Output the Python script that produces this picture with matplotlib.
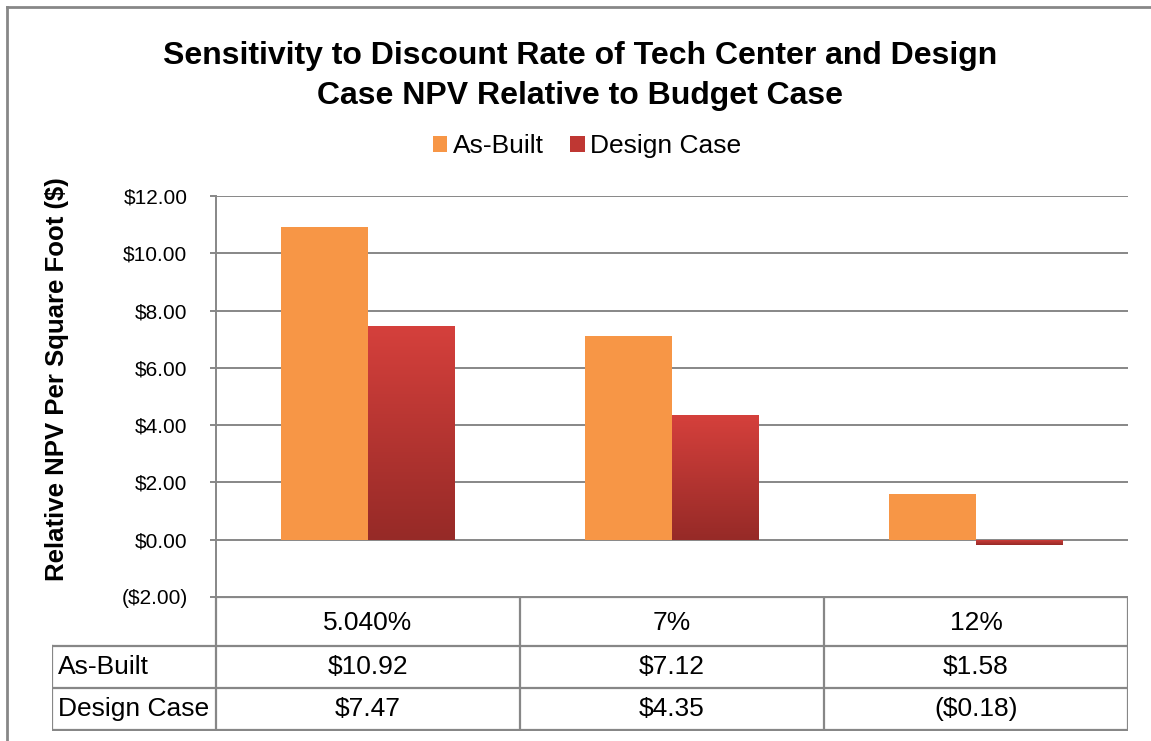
import numpy as np
import matplotlib.pyplot as plt
from matplotlib.patches import Patch
from matplotlib.lines import Line2D
from matplotlib.colors import LinearSegmentedColormap
from matplotlib.ticker import FuncFormatter

plt.rcParams['font.family'] = ['Liberation Sans', 'DejaVu Sans']

# Data
categories = ['5.040%', '7%', '12%']
series_names = ['As-Built', 'Design Case']
as_built = [10.92, 7.12, 1.58]
design_case = [7.47, 4.35, -0.18]
yticks = [-2, 0, 2, 4, 6, 8, 10, 12]

# Style
orange = '#F79646'
red_top = '#D5403C'
red_bottom = '#962A27'
red_mid = '#BF3733'
grid_col = '#878787'

W, H = 1151, 741
fig = plt.figure(figsize=(W / 100, H / 100), dpi=100)


def px(x0, y0, x1, y1):
    # pixel box (origin top-left) -> figure fraction rect
    return [x0 / W, 1 - y1 / H, (x1 - x0) / W, (y1 - y0) / H]


def money(v, pos=None):
    if v < 0:
        return '(${:,.2f})'.format(-v)
    return '${:,.2f}'.format(v)


# - - - - - - - - - - - - - - - - - - - - - - - - - - - - - - - -
# Main bar chart
# - - - - - - - - - - - - - - - - - - - - - - - - - - - - - - - -
ax = fig.add_axes(px(216, 196, 1128, 597))
x = np.arange(len(categories))
bw = 0.285

ax.bar(x - bw / 2, as_built, bw, color=orange, zorder=3)
bars2 = ax.bar(x + bw / 2, design_case, bw, color=red_mid, zorder=3)

# vertical gradient on the Design Case bars
cmap = LinearSegmentedColormap.from_list('red_grad', [red_bottom, red_top])
grad = np.linspace(0, 1, 256).reshape(-1, 1)
for rect in bars2:
    x0, y0 = rect.get_x(), rect.get_y()
    w, h = rect.get_width(), rect.get_height()
    lo, hi = min(y0, y0 + h), max(y0, y0 + h)
    im = ax.imshow(grad, cmap=cmap, origin='lower', aspect='auto',
                   extent=(x0, x0 + w, lo, hi), zorder=3.5)
    im.set_clip_path(rect)

ax.set_xlim(-0.5, len(categories) - 0.5)
ax.set_ylim(min(yticks), max(yticks))
ax.set_yticks(yticks)
ax.yaxis.set_major_formatter(FuncFormatter(money))
ax.set_xticks([])
ax.grid(axis='y', color=grid_col, linewidth=1.4, zorder=0)
ax.set_axisbelow(True)
for s in ['top', 'right', 'bottom']:
    ax.spines[s].set_visible(False)
ax.spines['left'].set_color(grid_col)
ax.spines['left'].set_linewidth(1.4)
ax.tick_params(axis='y', length=4.5, width=1.4, color=grid_col,
               labelsize=15, pad=16)

# - - - - - - - - - - - - - - - - - - - - - - - - - - - - - - - -
# Data table under the chart
# - - - - - - - - - - - - - - - - - - - - - - - - - - - - - - - -
tax = fig.add_axes(px(52, 597, 1128, 731))
unit = (1128 - 216) / len(categories)
x_left = -0.5 - (216 - 52) / unit
tax.set_xlim(x_left, len(categories) - 0.5)
tax.set_ylim(134, 0)
tax.axis('off')

row_edges = [0, 49, 91, 133]
lkw = dict(color=grid_col, linewidth=1.6, solid_capstyle='projecting')
tax.plot([-0.5, len(categories) - 0.5], [0, 0], **lkw)
for yb in row_edges[1:]:
    tax.plot([x_left, len(categories) - 0.5], [yb, yb], **lkw)
tax.plot([x_left, x_left], [row_edges[1], row_edges[-1]], **lkw)
for xb in np.arange(len(categories) + 1) - 0.5:
    tax.plot([xb, xb], [0, row_edges[-1]], **lkw)

tsize = 19
for i, cat in enumerate(categories):
    tax.text(i, (row_edges[0] + row_edges[1]) / 2 + 1, cat,
             ha='center', va='center', fontsize=tsize)
for r, (name, vals) in enumerate(zip(series_names, [as_built, design_case])):
    yc = (row_edges[r + 1] + row_edges[r + 2]) / 2
    tax.text(x_left + 6 / unit, yc, name, ha='left', va='center',
             fontsize=tsize)
    for i, v in enumerate(vals):
        tax.text(i, yc, money(v), ha='center', va='center', fontsize=tsize)

# - - - - - - - - - - - - - - - - - - - - - - - - - - - - - - - -
# Title, legend, axis label, chart border
# - - - - - - - - - - - - - - - - - - - - - - - - - - - - - - - -
fig.text(580 / W, 1 - 76 / H,
         'Sensitivity to Discount Rate of Tech Center and Design\n'
         'Case NPV Relative to Budget Case',
         ha='center', va='center', fontsize=23, fontweight='bold',
         linespacing=1.42)

handles = [Patch(facecolor=orange, edgecolor='none'),
           Patch(facecolor=red_mid, edgecolor='none')]
fig.legend(handles, series_names, loc='center',
           bbox_to_anchor=(587 / W, 1 - 146 / H), ncol=2, frameon=False,
           fontsize=19, handlelength=0.55, handleheight=0.55,
           handletextpad=0.2, columnspacing=1.0)

fig.text(57 / W, 1 - 379 / H, 'Relative NPV Per Square Foot ($)',
         rotation=90, ha='center', va='center', fontsize=18.5,
         fontweight='bold')

fig.add_artist(Line2D([6.5 / W, 6.5 / W], [0, 1 - 7 / H],
                      color=grid_col, linewidth=2))
fig.add_artist(Line2D([6.5 / W, 1], [1 - 7 / H, 1 - 7 / H],
                      color=grid_col, linewidth=2))

fig.savefig('out.png', dpi=100)
